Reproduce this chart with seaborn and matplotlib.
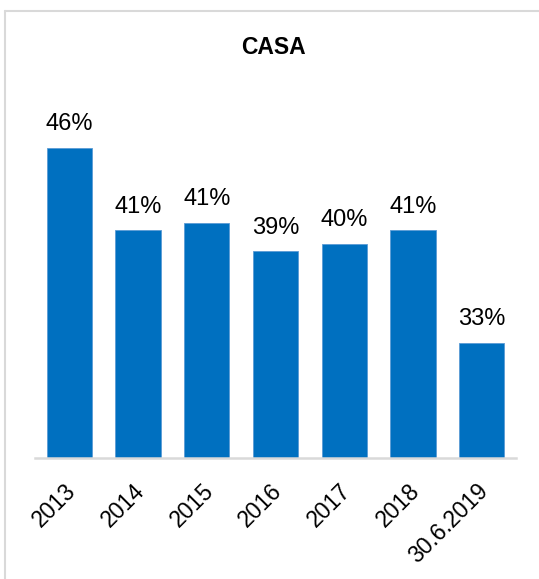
import matplotlib
matplotlib.use("Agg")
import matplotlib.pyplot as plt
import matplotlib.transforms as mtransforms
import seaborn as sns
import pandas as pd
from matplotlib.lines import Line2D

categories = ["2013", "2014", "2015", "2016", "2017", "2018", "30.6.2019"]
values = [46.2, 40.7, 41.2, 39.3, 39.8, 40.7, 33.2]
labels = ["46%", "41%", "41%", "39%", "40%", "41%", "33%"]
title = "CASA"

sns.set_theme(style="white")
plt.rcParams["font.family"] = ["Liberation Sans", "DejaVu Sans"]

df = pd.DataFrame({"cat": categories, "val": values})

fig = plt.figure(figsize=(5.39, 5.79), dpi=100)
ax = fig.add_axes([35 / 539, 1 - 458 / 579, 481 / 539, 358 / 579])

sns.barplot(data=df, x="cat", y="val", color="#0070C0", saturation=1,
            width=0.66, ax=ax, edgecolor="#5B9BD5", linewidth=0.6)

ymin = 25.5
ax.set_ylim(ymin, ymin + 358 / 15)
ax.set_xlim(-0.5, len(categories) - 0.5)

for i, (v, lab) in enumerate(zip(values, labels)):
    ax.annotate(lab, xy=(i, v), xytext=(0, 12.5), textcoords="offset points",
                ha="center", va="baseline", fontsize=17, color="black")

for s in ["top", "right", "left"]:
    ax.spines[s].set_visible(False)
ax.spines["bottom"].set_color("#D9D9D9")
ax.spines["bottom"].set_linewidth(1.8)
ax.set_yticks([])
ax.set_xlabel("")
ax.set_ylabel("")
ax.tick_params(axis="x", length=0, pad=21, labelsize=16.5, colors="black")
shift = mtransforms.ScaledTranslation(3 / 100, 0, fig.dpi_scale_trans)
for t in ax.get_xticklabels():
    t.set_rotation(45)
    t.set_ha("right")
    t.set_va("center")
    t.set_rotation_mode("anchor")
    t.set_transform(t.get_transform() + shift)

fig.text(273 / 539, 1 - 54 / 579, title, ha="center", va="baseline",
         fontsize=16.5, fontweight="bold", color="black")

# outer frame
fig.add_artist(Line2D([4.7 / 539, 4.7 / 539], [0, 1 - 11 / 579],
                      transform=fig.transFigure, color="#D9D9D9", linewidth=1.5))
fig.add_artist(Line2D([4.7 / 539, 1], [1 - 11 / 579, 1 - 11 / 579],
                      transform=fig.transFigure, color="#D9D9D9", linewidth=1.5))

fig.savefig("out.png", dpi=100, facecolor="white")
